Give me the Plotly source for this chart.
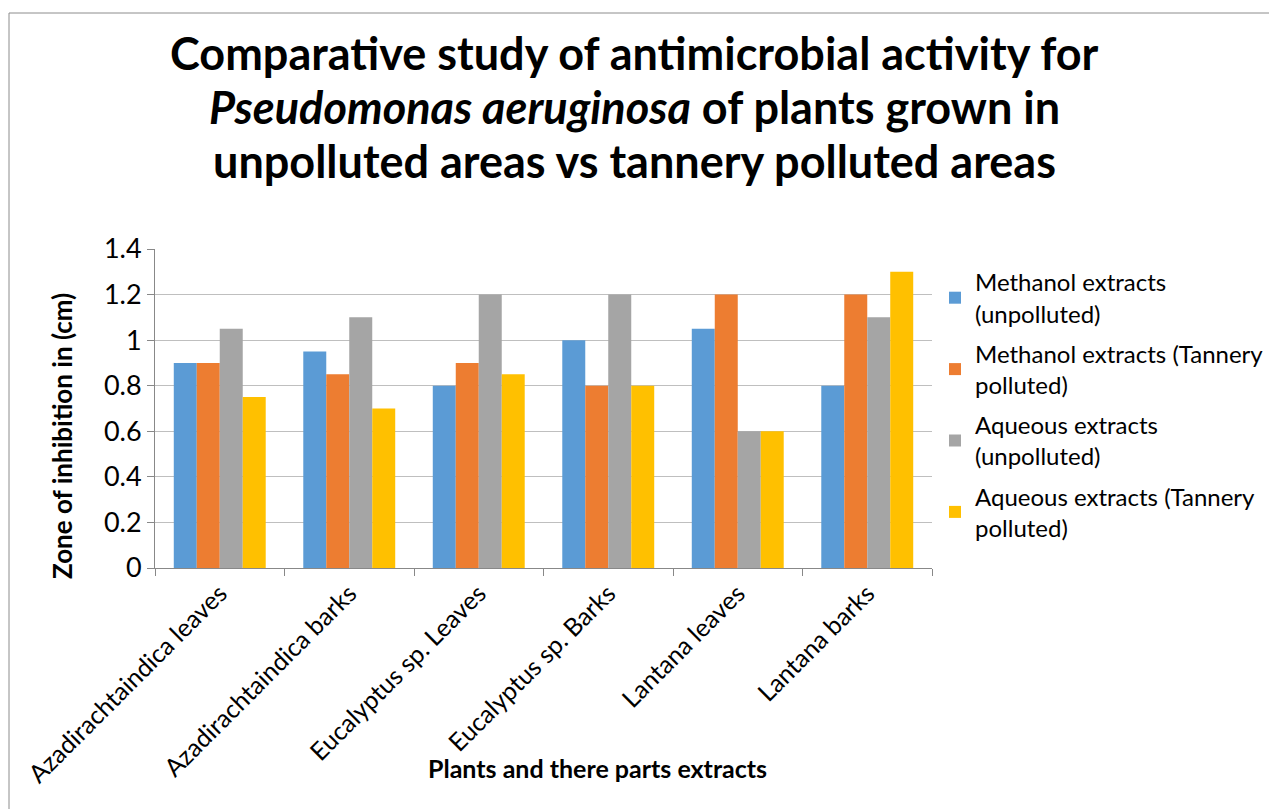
import plotly.graph_objects as go

categories = ["Azadirachtaindica leaves", "Azadirachtaindica barks", "Eucalyptus sp. Leaves",
              "Eucalyptus sp. Barks", "Lantana leaves", "Lantana barks"]
methanol_unpolluted = [0.9, 0.95, 0.8, 1.0, 1.05, 0.8]
methanol_tannery = [0.9, 0.85, 0.9, 0.8, 1.2, 1.2]
aqueous_unpolluted = [1.05, 1.1, 1.2, 1.2, 0.6, 1.1]
aqueous_tannery = [0.75, 0.7, 0.85, 0.8, 0.6, 1.3]
series_names = ["Methanol extracts<br>(unpolluted)", "Methanol extracts (Tannery<br>polluted)",
                "Aqueous extracts<br>(unpolluted)", "Aqueous extracts (Tannery<br>polluted)"]
colors = ["#5B9BD5", "#ED7D31", "#A5A5A5", "#FFC000"]
y_ticks = [0, 0.2, 0.4, 0.6, 0.8, 1, 1.2, 1.4]
title_lines = ["<b>Comparative study of antimicrobial activity for</b>",
               "<b><i>Pseudomonas aeruginosa</i> of plants grown in</b>",
               "<b>unpolluted areas vs tannery polluted areas</b>"]

FONT = "Lato"
# screen coordinates of the plot area (page has 8px body margin)
PX0, PX1, PY0, PY1 = 155, 932, 249, 568
PW, PH = PX1 - PX0, PY1 - PY0


def px(x):
    return (x - PX0) / PW


def py(y):
    return (PY1 - y) / PH


fig = go.Figure()
for i, (name, vals, c) in enumerate(zip(series_names,
                                        [methanol_unpolluted, methanol_tannery, aqueous_unpolluted, aqueous_tannery],
                                        colors)):
    fig.add_trace(go.Bar(x=categories, y=vals, name=name, legendgroup=f"g{i}",
                         marker=dict(color=c, line=dict(width=0))))

fig.update_layout(
    width=1277, height=809,
    margin=dict(l=PX0 - 8, r=1277 - (PX1 - 8), t=PY0 - 8, b=809 - (PY1 - 8)),
    paper_bgcolor="white", plot_bgcolor="white",
    barmode="group", bargap=0.29, bargroupgap=0,
    font=dict(family=FONT, color="black"),
    showlegend=True,
    legend=dict(x=px(935), y=py(260), xanchor="left", yanchor="top", traceorder="grouped",
                font=dict(size=24, family=FONT), tracegroupgap=6, itemsizing="constant"),
    xaxis=dict(tickangle=-45, tickfont=dict(size=25, family=FONT), ticks="outside", tickson="boundaries",
               ticklen=7, tickcolor="#888888", showline=True, linecolor="#888888", linewidth=1,
               showgrid=False, automargin=False),
    yaxis=dict(range=[0, 1.4], tickvals=y_ticks, ticktext=["0", "0.2", "0.4", "0.6", "0.8", "1", "1.2", "1.4"],
               tickfont=dict(size=27, family=FONT), ticks="outside", ticklen=7, tickcolor="#888888",
               showline=True, linecolor="#888888", linewidth=1, showgrid=True, gridcolor="#BFBFBF",
               zeroline=False, automargin=False),
)

for line, yc in zip(title_lines, [53, 107, 161]):
    fig.add_annotation(text=line, xref="paper", yref="paper", x=px(634), y=py(yc),
                       xanchor="center", yanchor="middle", showarrow=False,
                       font=dict(size=45, family=FONT, color="black"))

fig.add_annotation(text="<b>Zone of inhibition in (cm)</b>", xref="paper", yref="paper",
                   x=px(62), y=py(436), textangle=-90, showarrow=False,
                   xanchor="center", yanchor="middle", font=dict(size=26, family=FONT))
fig.add_annotation(text="<b>Plants and there parts extracts</b>", xref="paper", yref="paper",
                   x=px(597), y=py(768), showarrow=False,
                   xanchor="center", yanchor="middle", font=dict(size=25, family=FONT))

# outer chart border (top and left edges visible)
fig.add_shape(type="line", xref="paper", yref="paper", x0=px(9), x1=px(1290),
              y0=py(13), y1=py(13), line=dict(color="#8C8C8C", width=1))
fig.add_shape(type="line", xref="paper", yref="paper", x0=px(9), x1=px(9),
              y0=py(13), y1=py(820), line=dict(color="#8C8C8C", width=1))

fig.write_html("out.html")
